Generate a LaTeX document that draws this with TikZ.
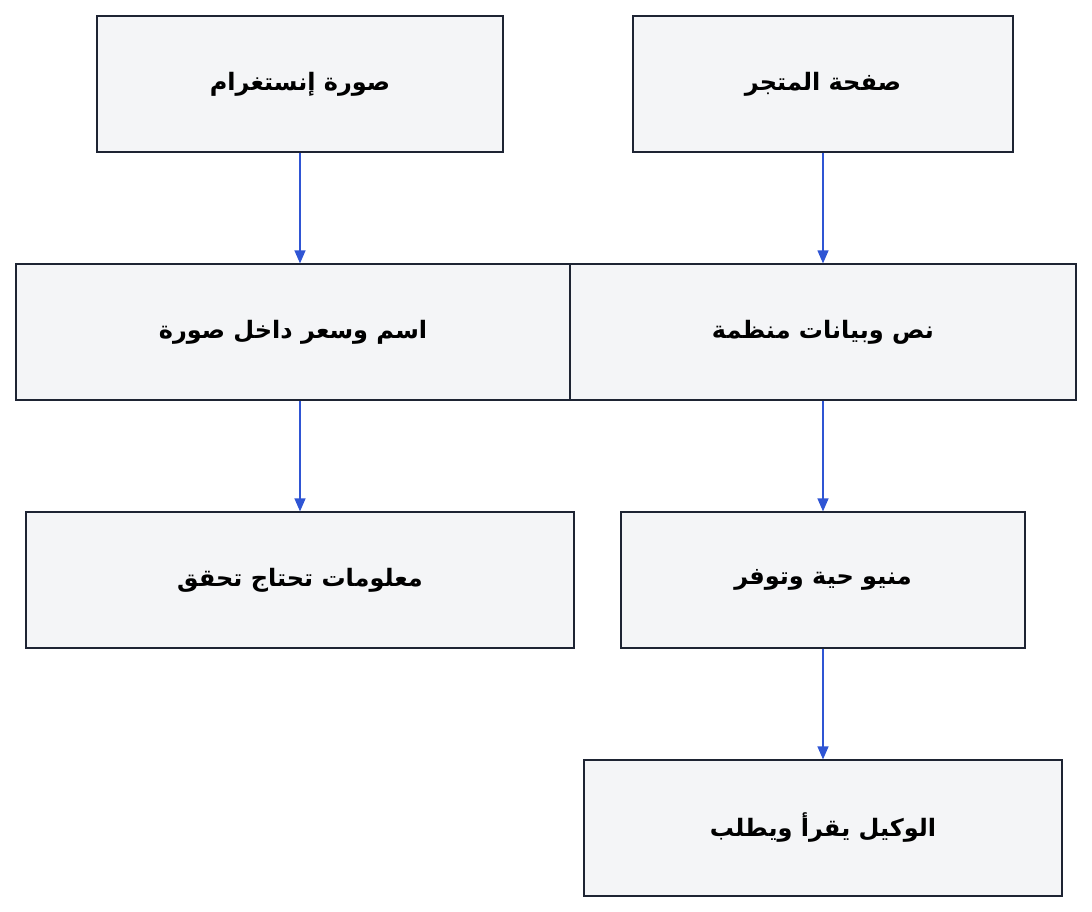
\documentclass[tikz,border=0pt]{standalone}
\usepackage{fontspec}
\newfontfamily\arab[Script=Arabic]{DejaVu Sans}
\TeXXeTstate=1
\usetikzlibrary{arrows.meta}
\definecolor{boxfill}{HTML}{F4F5F7}
\definecolor{boxline}{HTML}{1E2433}
\definecolor{flow}{HTML}{2F55D4}
\newcommand{\ar}[1]{\beginR\arab\bfseries #1\endR}
\tikzset{
    box/.style={draw=boxline, fill=boxfill, line width=1.2pt, inner sep=0pt,
        minimum height=136pt, font=\fontsize{24}{28}\selectfont},
    link/.style={draw=flow, line width=1.2pt, -{Triangle[length=13pt,width=11pt]}}
}
\begin{document}
\begin{tikzpicture}[x=1pt,y=-1pt]
    \useasboundingbox (0,0) rectangle (1092,912);
    % source boxes
    \node [box, minimum width=406pt] (insta) at (300,84) {\ar{صورة إنستغرام}};
    \node [box, minimum width=380pt] (store) at (823,84) {\ar{صفحة المتجر}};
    % middle row
    \node [box, minimum width=554pt] (image) at (293,332) {\ar{اسم وسعر داخل صورة}};
    \node [box, minimum width=506pt] (data) at (823,332) {\ar{نص وبيانات منظمة}};
    % results
    \node [box, minimum width=548pt] (check) at (300,580) {\ar{معلومات تحتاج تحقق}};
    \node [box, minimum width=404pt] (menu) at (823,580) {\ar{منيو حية وتوفر}};
    \node [box, minimum width=478pt] (agent) at (823,828) {\ar{الوكيل يقرأ ويطلب}};
    % arrows
    \draw [link] (insta.south) -- (insta.south|-image.north);
    \draw [link] (insta.south|-image.south) -- (check.north);
    \draw [link] (store.south) -- (data.north);
    \draw [link] (data.south) -- (menu.north);
    \draw [link] (menu.south) -- (agent.north);
\end{tikzpicture}
\end{document}
